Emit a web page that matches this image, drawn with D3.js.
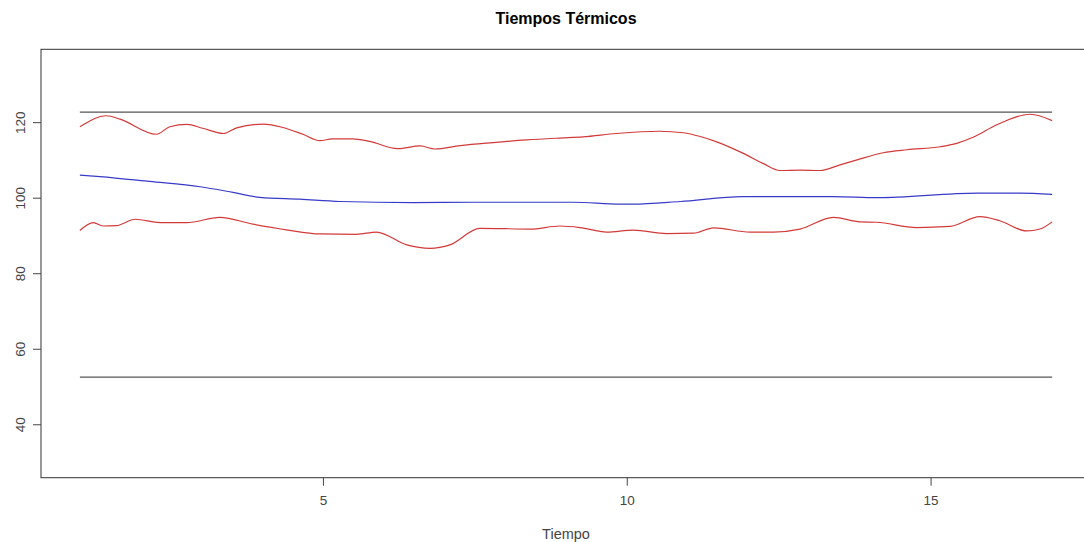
<!DOCTYPE html>
<html><head><meta charset="utf-8">
<script src="https://cdn.jsdelivr.net/npm/d3@7"></script>
<style>body{margin:0;background:#fff}svg{display:block}text{font-family:"Liberation Sans",Arial,sans-serif}</style>
</head><body><svg id="c" width="1084" height="542"></svg>
<script>
const title = "Tiempos Térmicos";
const xLabel = "Tiempo";
const xTicks = [5, 10, 15];
const yTicks = [40, 60, 80, 100, 120];
const limitHigh = 122.65;
const limitLow = 52.5;
const upperX = [1.00,1.44,1.66,2.26,2.48,2.76,3.02,3.36,3.58,4.02,4.34,4.67,4.95,5.16,5.49,5.77,6.23,6.60,6.84,7.26,7.80,8.35,8.90,9.28,9.83,10.54,10.93,11.21,11.48,11.91,12.24,12.52,12.85,13.18,13.51,13.79,14.22,14.61,15.16,15.43,15.70,16.09,16.64,17.00];
const upperY = [118.8,121.7,120.8,116.8,118.8,119.4,118.4,117.0,118.5,119.5,118.6,116.8,115.1,115.6,115.6,114.9,113.0,113.7,112.9,113.8,114.6,115.3,115.8,116.1,117.0,117.6,117.2,116.2,114.8,111.8,109.1,107.2,107.3,107.2,108.7,110.0,111.9,112.7,113.5,114.4,116.0,119.3,122.1,120.4];
const meanX = [1.00,1.33,2.15,2.98,3.52,3.96,4.62,5.28,6.48,7.47,9.12,9.89,10.10,10.88,11.91,13.40,14.12,15.77,16.47,17.00];
const meanY = [106.0,105.6,104.3,102.9,101.4,100.1,99.6,99.0,98.7,98.8,98.8,98.3,98.3,99.0,100.3,100.3,100.0,101.2,101.2,100.9];
const lowerX = [1.00,1.22,1.38,1.60,1.91,2.32,2.76,3.30,3.85,4.40,4.95,5.55,5.88,6.38,6.76,7.09,7.58,8.41,8.90,9.23,9.67,10.11,10.66,11.10,11.43,12.03,12.41,12.85,13.40,13.84,14.11,14.77,15.32,15.81,16.14,16.58,16.80,17.00];
const lowerY = [91.3,93.4,92.5,92.6,94.3,93.4,93.4,94.8,93.0,91.5,90.4,90.3,90.9,87.5,86.6,87.5,91.9,91.7,92.5,92.1,90.9,91.4,90.5,90.6,92.0,90.9,90.9,91.7,94.8,93.6,93.5,92.1,92.4,95.0,93.9,91.2,91.7,93.6];

const svg = d3.select("#c");
const L = 41, R = 1091, T = 49.3, B = 477.7;
const x = d3.scaleLinear().domain([0.36, 17.64]).range([L, R]);
const y = d3.scaleLinear().domain([25.85, 139.3]).range([B, T]);

const axCol = "#444";
svg.append("rect").attr("x", L).attr("y", T).attr("width", R - L).attr("height", B - T)
  .attr("fill", "none").attr("stroke", "#333").attr("stroke-width", 1);

const xa = svg.append("g").attr("transform", `translate(0,${B})`)
  .call(d3.axisBottom(x).tickValues(xTicks).tickSize(8).tickPadding(10).tickFormat(d3.format("d")));
xa.select(".domain").remove();
xa.selectAll("line").attr("stroke", axCol);
xa.selectAll("text").attr("fill", axCol).attr("font-size", 13.5);

const ya = svg.append("g").attr("transform", `translate(${L},0)`)
  .call(d3.axisLeft(y).tickValues(yTicks).tickSize(8).tickFormat(d3.format("d")));
ya.select(".domain").remove();
ya.selectAll("line").attr("stroke", axCol);
ya.selectAll("text").attr("fill", axCol).attr("font-size", 13.5)
  .attr("text-anchor", "middle").attr("x", null).attr("dy", null)
  .attr("transform", "translate(-16,0) rotate(-90)").attr("y", 0);

svg.append("text").attr("x", (L + R) / 2).attr("y", 24).attr("text-anchor", "middle")
  .attr("font-weight", "bold").attr("font-size", 16).attr("fill", "#000").text(title);
svg.append("text").attr("x", (L + R) / 2).attr("y", 539).attr("text-anchor", "middle")
  .attr("font-size", 14.5).attr("fill", axCol).text(xLabel);

[limitHigh, limitLow].forEach(v => {
  svg.append("line").attr("x1", x(1)).attr("x2", x(17)).attr("y1", y(v)).attr("y2", y(v))
    .attr("stroke", "#555").attr("stroke-width", 1.2);
});

const line = d3.line().x(d => x(d[0])).y(d => y(d[1])).curve(d3.curveMonotoneX);
function draw(xs, ys, col) {
  svg.append("path").datum(xs.map((v, i) => [v, ys[i]])).attr("d", line)
    .attr("fill", "none").attr("stroke", col).attr("stroke-width", 1.2);
}
draw(upperX, upperY, "#d23a3a");
draw(lowerX, lowerY, "#d23a3a");
draw(meanX, meanY, "#3a3ac8");
</script></body></html>
